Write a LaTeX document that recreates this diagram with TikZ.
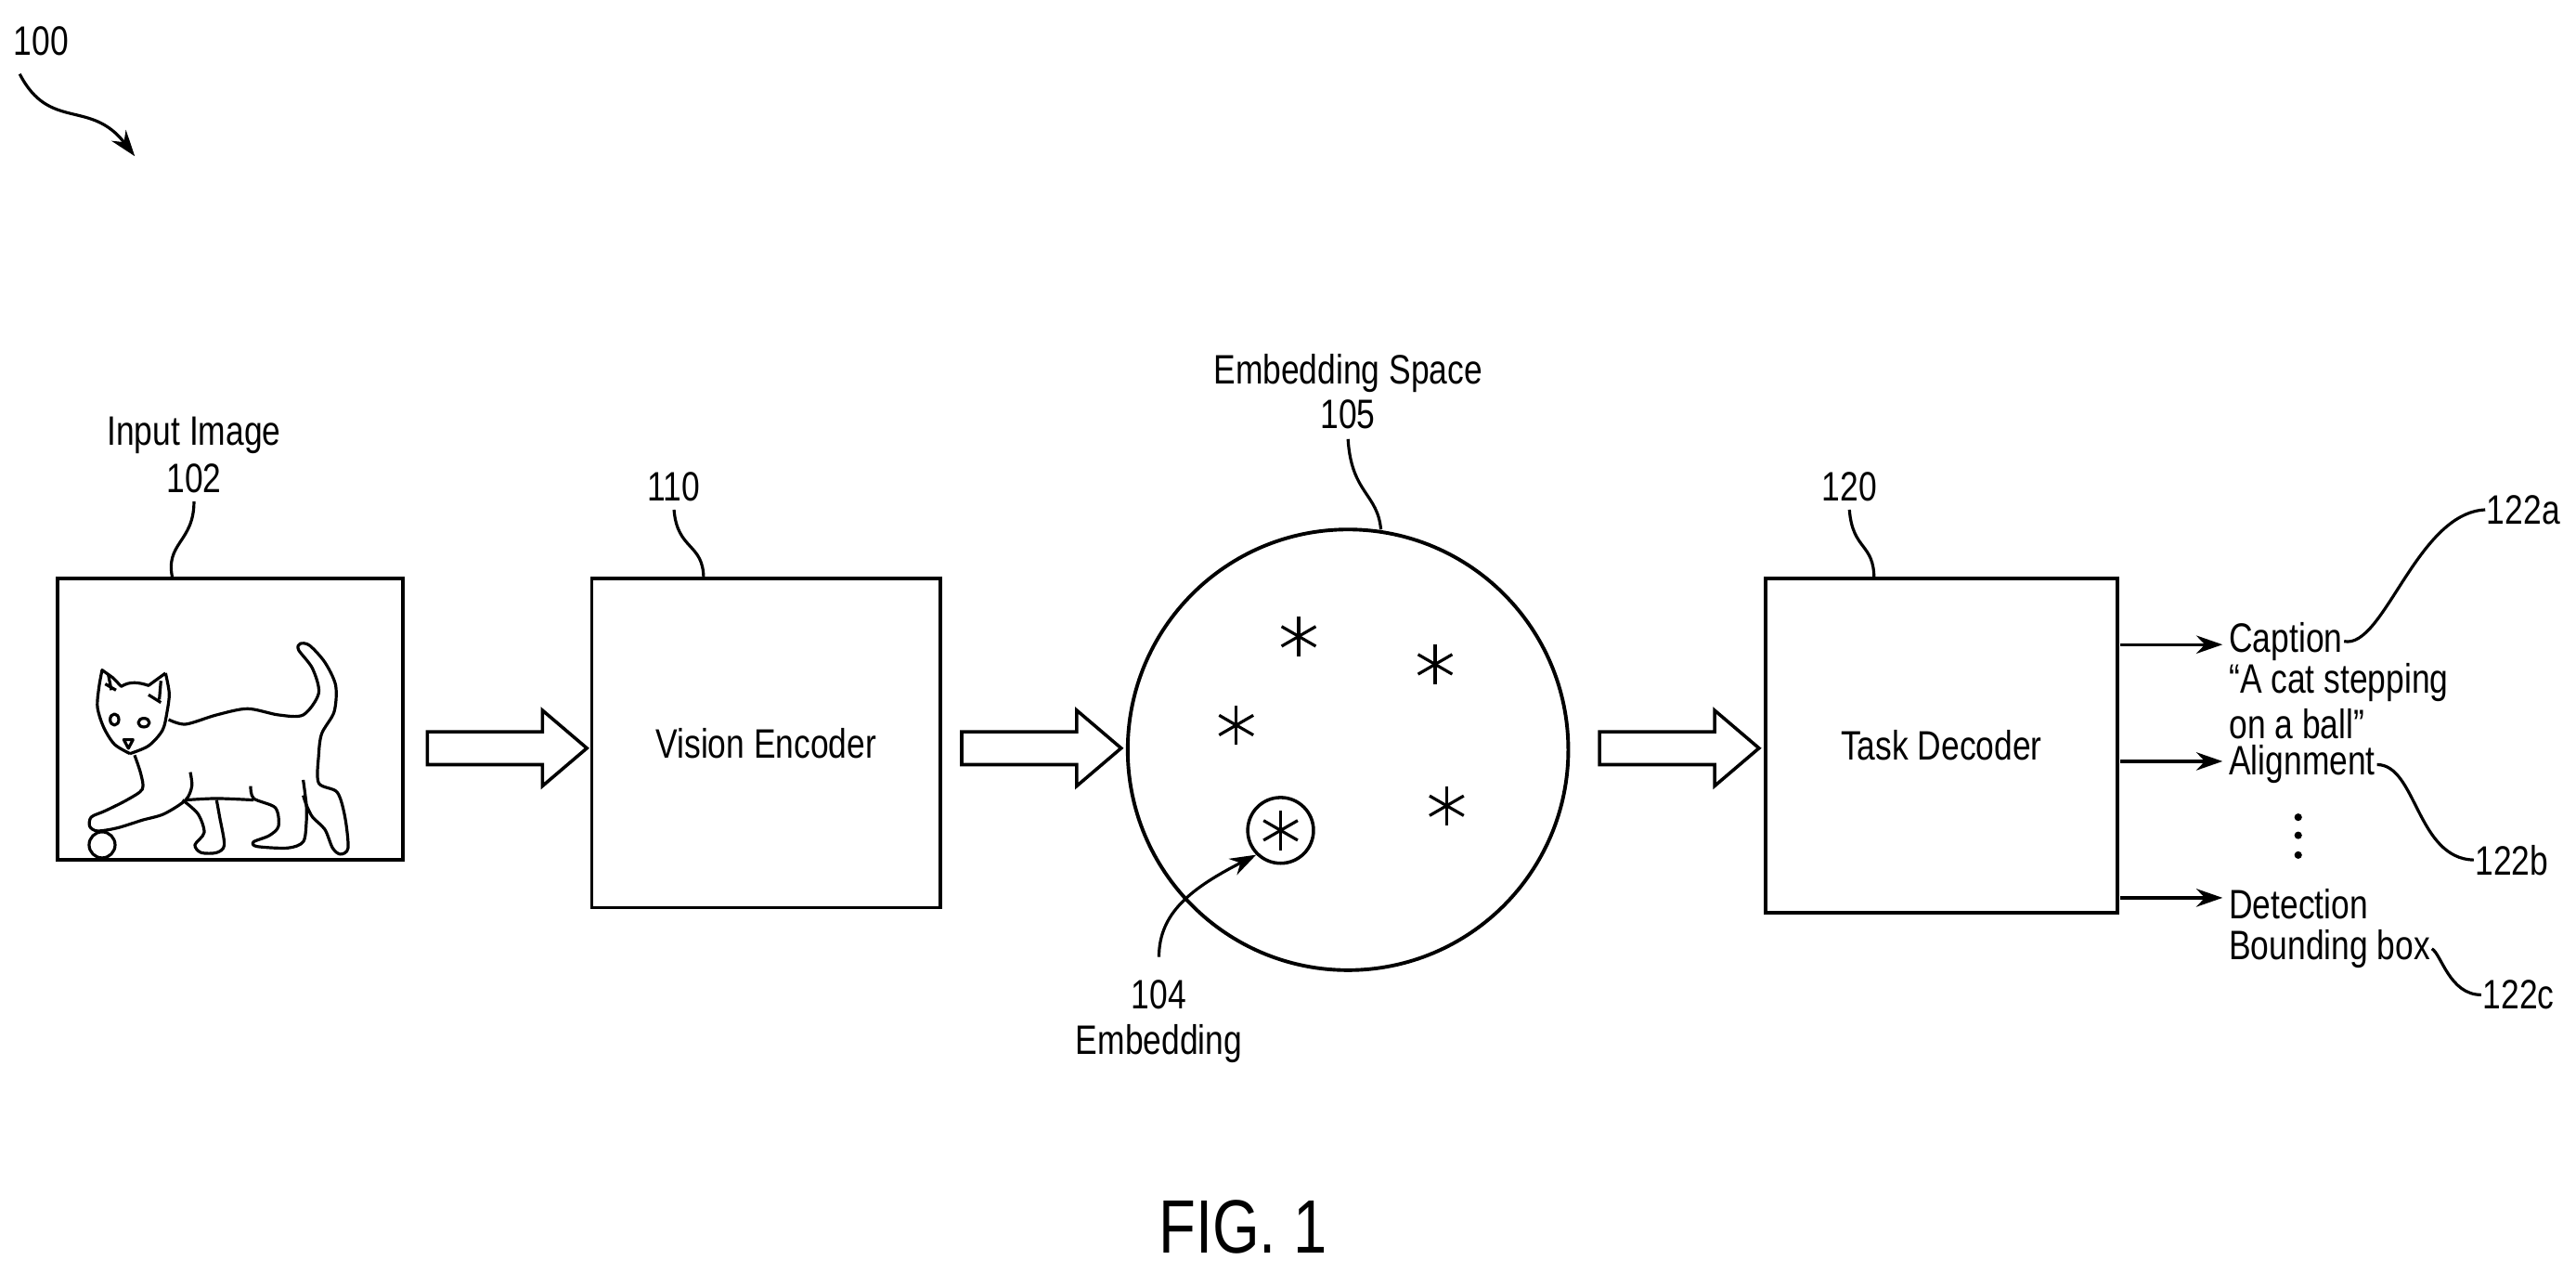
\documentclass[tikz,border=0pt]{standalone}
\usepackage{fontspec}
\setmainfont{Liberation Sans}[FakeStretch=0.8]
\usetikzlibrary{arrows.meta}
\begin{document}
\begin{tikzpicture}[x=1pt,y=-1pt,line width=2pt,
  box/.style={draw,line width=2.2pt},
  lbl/.style={font=\fontsize{25}{29}\selectfont,inner sep=0pt,align=center},
  olbl/.style={font=\fontsize{25}{25}\selectfont,inner sep=0pt,anchor=west},
  lead/.style={line width=1.8pt},
  arr/.style={line width=1.8pt,-{Stealth[length=16pt,width=11pt]}},
  harrow/.pic={\draw[line width=2pt] (0,-10)--(70,-10)--(70,-23)--(97,0)--(70,23)--(70,10)--(0,10)--cycle;}]
\useasboundingbox (0,0) rectangle (1567,774);
% 100
\node[lbl] (n100) at (25,25) {100};
\draw[arr] (12,45) .. controls (30,80) and (55,60) .. (82,95);
% input image
\node[lbl] (tin) at (118,265) {Input Image};
\node[lbl] (n102) at (118,291) {102};
\node[box,minimum width=210pt,minimum height=171pt,inner sep=0pt] (img) at (140,437.5) {};
\draw[lead] (118,305) .. controls (118,330) and (100,330) .. (105,352);
\begin{scope}[shift={(33.88,383.96)},scale=0.1882,line width=1.8pt,line join=round]
 \draw plot[smooth] coordinates {(240,395)(190,365)(155,310)(135,245)(140,180)(150,125)} -- (185,150) -- (212,178)
   .. controls (240,160) and (270,165) .. (300,175) -- (355,135)
   plot[smooth] coordinates {(355,135)(367,200)(360,260)(345,320)(300,370)(240,395)};
 \draw (160,170)--(195,190) (300,205)--(340,230) (170,140)--(180,190) (340,160)--(335,220);
 \draw (190,285) ellipse (14 and 18) (285,295) ellipse (18 and 14);
 \draw (220,350)--(250,350)--(235,378)--cycle;
 \draw plot[smooth] coordinates {(365,285)(420,300)(520,270)(620,250)(720,270)(800,270)(850,200)(830,120)(785,60)(790,40)(820,45)(870,100)(905,175)(900,260)(860,330)(850,400)(850,490)(910,520)(935,600)(945,700)(920,720)(895,700)(870,640)(830,600)(810,560)(800,530)};
 \draw plot[smooth] coordinates {(800,480)(810,560)(810,620)(800,680)(750,700)(650,695)(640,680)(690,660)(720,630)(710,570)(640,540)(630,500)};
 \draw plot[smooth] coordinates {(640,545)(520,540)(420,545)};
 \draw plot[smooth] coordinates {(410,545)(460,590)(480,650)(450,690)(470,715)(520,715)(545,690)(530,600)(520,545)};
 \draw plot[smooth] coordinates {(255,400)(275,460)(280,510)(230,545)(160,580)(115,600)(110,630)(135,645)(200,635)(280,610)(350,590)(420,545)(440,500)(435,455)};
 \draw (150,690) circle (42);
\end{scope}
\pic at (260,455) {harrow};
% vision encoder
\node[lbl] (n110) at (410,296) {110};
\node[box,minimum width=212pt,minimum height=200pt,inner sep=0pt] (enc) at (466,452) {};
\node[lbl] (tenc) at (enc) {Vision Encoder};
\draw[lead] (410,310) .. controls (412,335) and (428,330) .. (428,352);
\pic at (585,455) {harrow};
% embedding space
\node[lbl] (tes) at (820,227) {Embedding Space};
\node[lbl] (n105) at (820,252) {105};
\node[draw,circle,line width=2.2pt,minimum size=268pt,inner sep=0pt] (sp) at (820,456) {};
\draw[lead] (820,267) .. controls (822,300) and (838,300) .. (840,322);
\foreach \p/\q [count=\i] in {790/387,873/404,752/441,880/490,779/505}{
  \node[inner sep=0pt] (s\i) at (\p,\q) {};
  \foreach \a in {90,30,-30}{\draw[line width=1.8pt] (\p,\q) ++(\a:12) -- ++(\a+180:24);}
}
\node[draw,circle,line width=2pt,minimum size=40pt,inner sep=0pt] (emb) at (779,505) {};
\node[lbl] (n104) at (705,605) {104};
\node[lbl] (temb) at (705,635) {Embedding};
\draw[arr] (705,582) .. controls (705,555) and (725,540) .. (emb.south west);
\pic at (973,455) {harrow};
% task decoder
\node[lbl] (n120) at (1125,296) {120};
\node[box,minimum width=214pt,minimum height=203pt,inner sep=0pt] (dec) at (1181,453.5) {};
\node[lbl] (tdec) at (dec) {Task Decoder};
\draw[lead] (1125,310) .. controls (1127,335) and (1140,330) .. (1140,352);
% outputs
\node[olbl] (cap) at (1355,390) {Caption};
\node[olbl] (capt1) at (1355,415) {“A cat stepping};
\node[olbl] (capt2) at (1355,440) {on a ball”};
\node[olbl] (ali) at (1355,465) {Alignment};
\node[olbl] (det) at (1355,550) {Detection};
\node[olbl] (bb) at (1355,577) {Bounding box};
\coordinate (o1) at (1290,392); \coordinate (o2) at (1290,463); \coordinate (o3) at (1290,546);
\draw[arr] (o1) -- (1352,392);
\draw[arr] (o2) -- (1352,463);
\draw[arr] (o3) -- (1352,546);
\foreach \y in {497,508,520} \fill (1398,\y) circle (2.3);
\node[lbl] (n122a) at (1535,310) {122a};
\node[lbl] (n122b) at (1528,523) {122b};
\node[lbl] (n122c) at (1532,605) {122c};
\draw[lead] (cap.east) .. controls (1450,395) and (1470,312) .. (n122a.west);
\draw[lead] (ali.east) .. controls (1470,465) and (1470,522) .. (n122b.west);
\draw[lead] (bb.east) .. controls (1485,580) and (1490,605) .. (n122c.west);
\node[font=\fontsize{46}{50}\selectfont,inner sep=0pt] (fig) at (756,746) {FIG. 1};
\end{tikzpicture}
\end{document}
